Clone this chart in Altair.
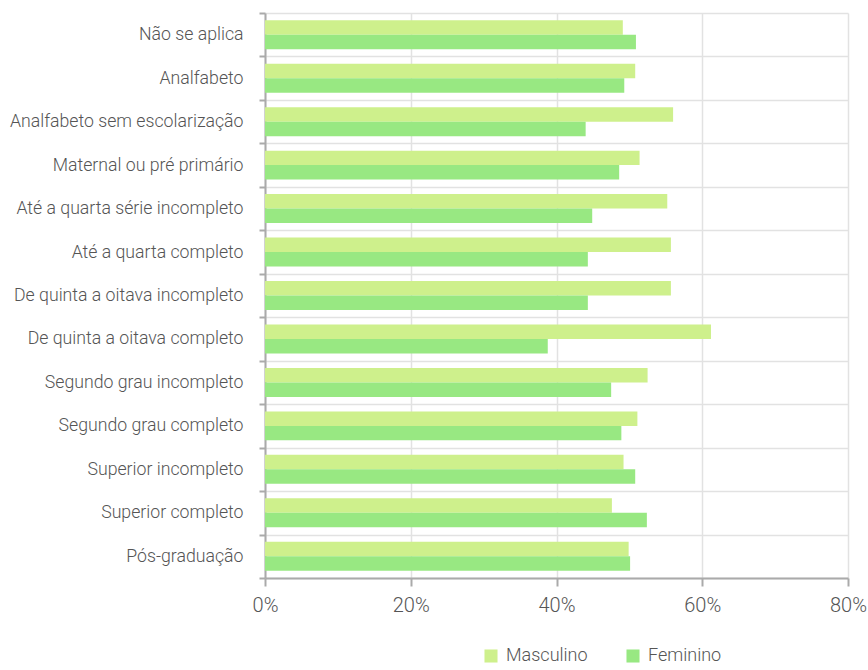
import altair as alt
import pandas as pd

categories = [
    "Não se aplica",
    "Analfabeto",
    "Analfabeto sem escolarização",
    "Maternal ou pré primário",
    "Até a quarta série incompleto",
    "Até a quarta completo",
    "De quinta a oitava incompleto",
    "De quinta a oitava completo",
    "Segundo grau incompleto",
    "Segundo grau completo",
    "Superior incompleto",
    "Superior completo",
    "Pós-graduação",
]
masculino = [49.1, 50.8, 56.0, 51.4, 55.2, 55.7, 55.7, 61.2, 52.5, 51.1, 49.2, 47.6, 49.9]
feminino = [50.9, 49.3, 44.0, 48.6, 44.9, 44.3, 44.3, 38.8, 47.5, 48.9, 50.8, 52.4, 50.1]
series = ["Masculino", "Feminino"]
colors = ["#cef08c", "#98e882"]
x_ticks = [0, 0.2, 0.4, 0.6, 0.8]

rows = []
for c, m, f in zip(categories, masculino, feminino):
    rows.append({"cat": c, "serie": "Masculino", "valor": m / 100})
    rows.append({"cat": c, "serie": "Feminino", "valor": f / 100})
df = pd.DataFrame(rows)

FONT = "Roboto"
TXT = "#555555"
FW = 300

chart = alt.Chart(df).mark_bar().encode(
    x=alt.X(
        "valor:Q",
        scale=alt.Scale(domain=[0, 0.8], nice=False),
        axis=alt.Axis(
            format="%", values=x_ticks, title=None,
            grid=True, gridColor="#e2e2e2", gridWidth=1.5,
            domainColor="#aaaaaa", domainWidth=2,
            tickColor="#aaaaaa", tickWidth=2, tickSize=8,
            labelFont=FONT, labelFontSize=20, labelFontWeight=FW,
            labelColor=TXT, labelPadding=9, labelFlush=False,
        ),
    ),
    y=alt.Y(
        "cat:N", sort=categories,
        scale=alt.Scale(paddingInner=0, paddingOuter=0),
        axis=alt.Axis(
            title=None, tickBand="extent",
            grid=True, gridColor="#e2e2e2", gridWidth=1.5,
            domainColor="#aaaaaa", domainWidth=2,
            tickColor="#aaaaaa", tickWidth=2, tickSize=6,
            labelFont=FONT, labelFontSize=17.7, labelFontWeight=FW,
            labelColor=TXT, labelPadding=16, labelLimit=300,
        ),
    ),
    yOffset=alt.YOffset(
        "serie:N", sort=series,
        scale=alt.Scale(domain=series, paddingOuter=0.5, paddingInner=0),
    ),
    color=alt.Color(
        "serie:N", sort=series,
        scale=alt.Scale(domain=series, range=colors),
        legend=alt.Legend(
            title=None, orient="none", direction="horizontal",
            legendX=217, legendY=634,
            symbolType="square", symbolSize=170, symbolStrokeWidth=0,
            labelFont=FONT, labelFontSize=18, labelFontWeight=FW,
            labelColor=TXT, labelOffset=6, columnPadding=36,
        ),
    ),
).properties(
    width=583,
    height=565,
    autosize=alt.AutoSizeParams(type="none"),
    padding={"left": 265, "top": 13, "right": 20, "bottom": 92},
).configure_view(stroke=None)

chart.save("out.html", embed_options={"renderer": "svg", "actions": False})
